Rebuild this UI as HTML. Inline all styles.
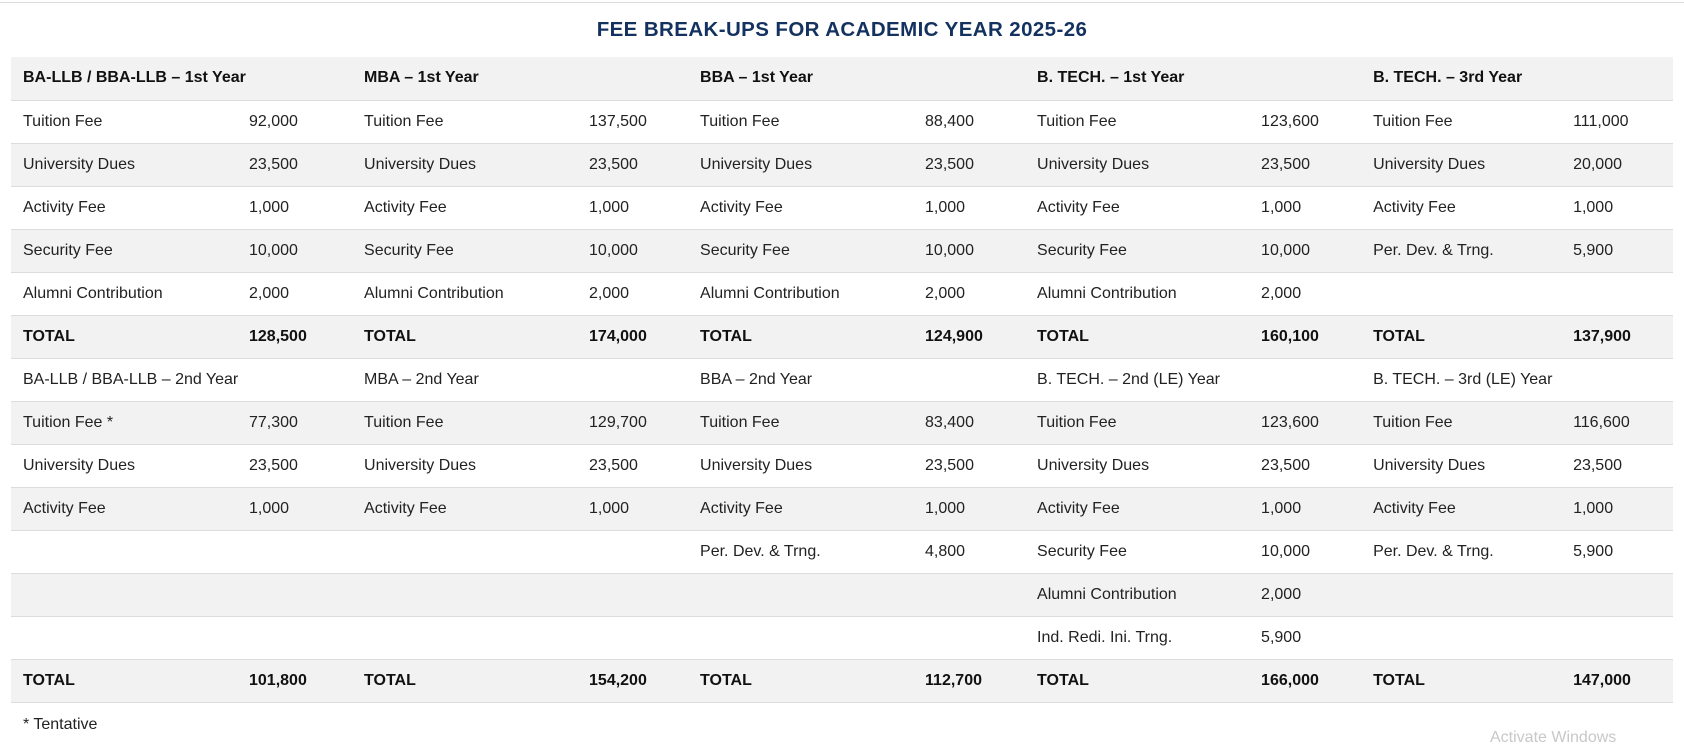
<!DOCTYPE html>
<html><head><meta charset="utf-8"><style>
body{margin:0;width:1684px;height:740px;background:#fff;font-family:"Liberation Sans",Arial,sans-serif;position:relative;overflow:hidden}
.top{position:absolute;left:0;top:2px;width:1684px;height:1px;background:#ddd}
h1{position:absolute;left:0;top:18px;width:1684px;text-align:center;margin:0;font-size:20.5px;font-weight:bold;color:#14325f;letter-spacing:0.4px}
table{position:absolute;left:11px;top:57px;border-collapse:collapse;table-layout:fixed;width:1662px}
td{height:43px;padding:0 0 0 12px;font-size:16px;color:#222;border-bottom:1px solid #dcdcdc;white-space:nowrap;box-sizing:border-box}
tr:nth-child(odd) td{background:#f2f2f2}
.b td{font-weight:bold;color:#111}
.note{position:absolute;left:23px;top:716px;font-size:16px;color:#222}
.wm{position:absolute;left:1490px;top:729px;font-size:16px;color:#c8c8c8}
</style></head><body>
<div class="top"></div>
<h1>FEE BREAK-UPS FOR ACADEMIC YEAR 2025-26</h1>
<table>
<colgroup><col style="width:226px"><col style="width:115px"><col style="width:225px"><col style="width:111px"><col style="width:225px"><col style="width:112px"><col style="width:224px"><col style="width:112px"><col style="width:200px"><col style="width:112px"></colgroup>
<tr class="b"><td colspan="2">BA-LLB / BBA-LLB – 1st Year</td><td colspan="2">MBA – 1st Year</td><td colspan="2">BBA – 1st Year</td><td colspan="2">B. TECH. – 1st Year</td><td colspan="2">B. TECH. – 3rd Year</td></tr>
<tr><td>Tuition Fee</td><td>92,000</td><td>Tuition Fee</td><td>137,500</td><td>Tuition Fee</td><td>88,400</td><td>Tuition Fee</td><td>123,600</td><td>Tuition Fee</td><td>111,000</td></tr>
<tr><td>University Dues</td><td>23,500</td><td>University Dues</td><td>23,500</td><td>University Dues</td><td>23,500</td><td>University Dues</td><td>23,500</td><td>University Dues</td><td>20,000</td></tr>
<tr><td>Activity Fee</td><td>1,000</td><td>Activity Fee</td><td>1,000</td><td>Activity Fee</td><td>1,000</td><td>Activity Fee</td><td>1,000</td><td>Activity Fee</td><td>1,000</td></tr>
<tr><td>Security Fee</td><td>10,000</td><td>Security Fee</td><td>10,000</td><td>Security Fee</td><td>10,000</td><td>Security Fee</td><td>10,000</td><td>Per. Dev. &amp; Trng.</td><td>5,900</td></tr>
<tr><td>Alumni Contribution</td><td>2,000</td><td>Alumni Contribution</td><td>2,000</td><td>Alumni Contribution</td><td>2,000</td><td>Alumni Contribution</td><td>2,000</td><td></td><td></td></tr>
<tr class="b"><td>TOTAL</td><td>128,500</td><td>TOTAL</td><td>174,000</td><td>TOTAL</td><td>124,900</td><td>TOTAL</td><td>160,100</td><td>TOTAL</td><td>137,900</td></tr>
<tr><td colspan="2">BA-LLB / BBA-LLB – 2nd Year</td><td colspan="2">MBA – 2nd Year</td><td colspan="2">BBA – 2nd Year</td><td colspan="2">B. TECH. – 2nd (LE) Year</td><td colspan="2">B. TECH. – 3rd (LE) Year</td></tr>
<tr><td>Tuition Fee *</td><td>77,300</td><td>Tuition Fee</td><td>129,700</td><td>Tuition Fee</td><td>83,400</td><td>Tuition Fee</td><td>123,600</td><td>Tuition Fee</td><td>116,600</td></tr>
<tr><td>University Dues</td><td>23,500</td><td>University Dues</td><td>23,500</td><td>University Dues</td><td>23,500</td><td>University Dues</td><td>23,500</td><td>University Dues</td><td>23,500</td></tr>
<tr><td>Activity Fee</td><td>1,000</td><td>Activity Fee</td><td>1,000</td><td>Activity Fee</td><td>1,000</td><td>Activity Fee</td><td>1,000</td><td>Activity Fee</td><td>1,000</td></tr>
<tr><td></td><td></td><td></td><td></td><td>Per. Dev. &amp; Trng.</td><td>4,800</td><td>Security Fee</td><td>10,000</td><td>Per. Dev. &amp; Trng.</td><td>5,900</td></tr>
<tr><td></td><td></td><td></td><td></td><td></td><td></td><td>Alumni Contribution</td><td>2,000</td><td></td><td></td></tr>
<tr><td></td><td></td><td></td><td></td><td></td><td></td><td>Ind. Redi. Ini. Trng.</td><td>5,900</td><td></td><td></td></tr>
<tr class="b"><td>TOTAL</td><td>101,800</td><td>TOTAL</td><td>154,200</td><td>TOTAL</td><td>112,700</td><td>TOTAL</td><td>166,000</td><td>TOTAL</td><td>147,000</td></tr>
</table>
<div class="note">* Tentative</div>
<div class="wm">Activate Windows</div>
</body></html>
